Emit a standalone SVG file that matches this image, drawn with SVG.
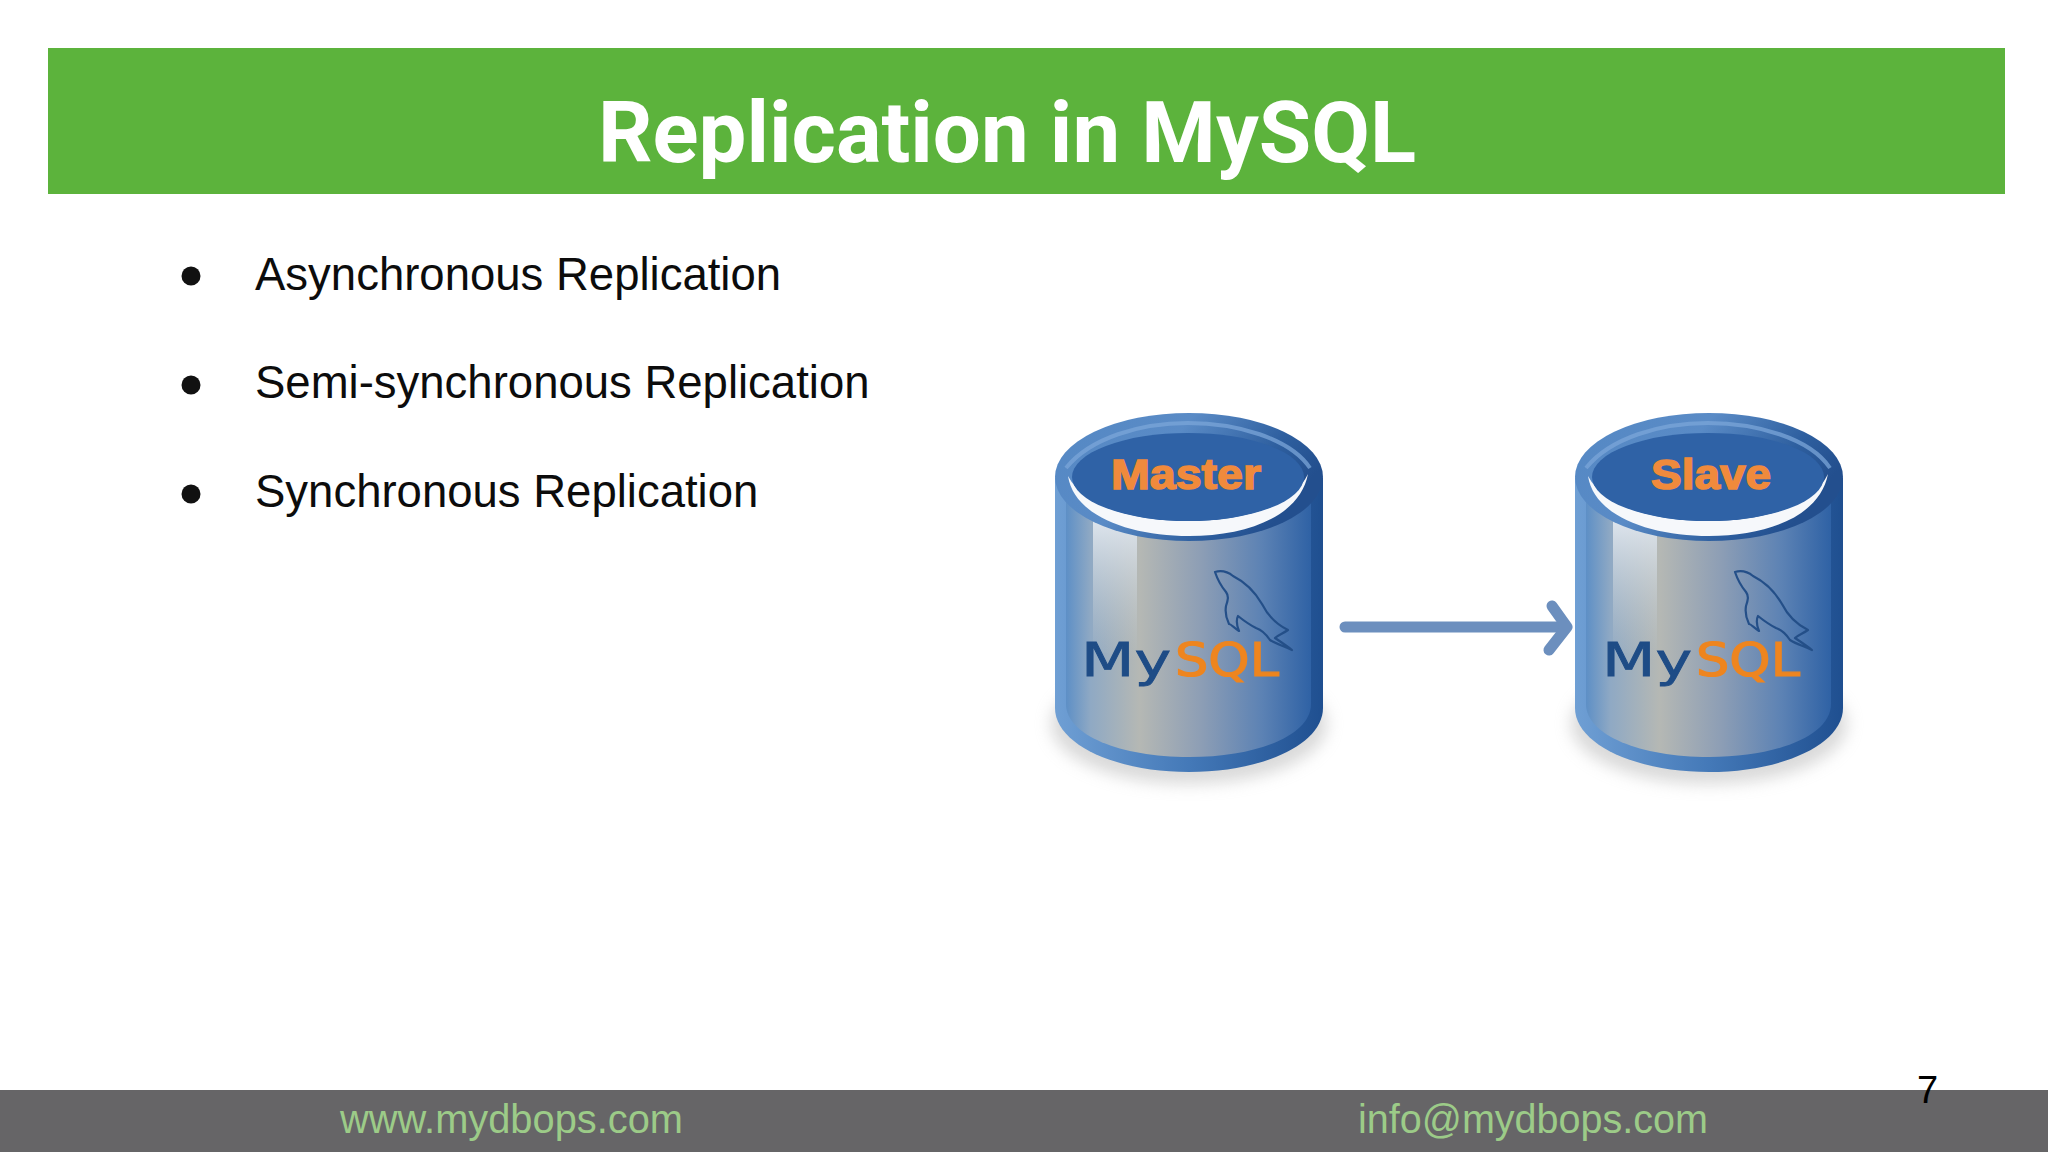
<svg xmlns="http://www.w3.org/2000/svg" width="2048" height="1152" viewBox="0 0 2048 1152">
<style>
.bullet{font-family:"Liberation Sans",Arial,sans-serif;font-size:45.5px;fill:#0c0c0c}
.foot{font-family:"Liberation Sans",Arial,sans-serif;font-size:40px;fill:#9ccb88}
.lbl{font-family:"Liberation Sans",Arial,sans-serif;font-weight:700;font-size:42px;fill:#f08a3c;stroke:#f08a3c;stroke-width:1.5px;text-anchor:middle}
.my{font-family:"DejaVu Sans",sans-serif;font-size:46px;fill:#1e4c86;stroke:#1e4c86;stroke-width:.8px}
.sql{font-family:"DejaVu Sans",sans-serif;font-size:46px;fill:#ee851f;stroke:#ee851f;stroke-width:1.2px}
.dol{fill:none;stroke:#244f88;stroke-width:2.2;stroke-linejoin:round;stroke-linecap:round}
</style>
<defs>
<linearGradient id="rim" x1="0" x2="1" y1="0" y2="0">
<stop offset="0" stop-color="#6f9fd4"/><stop offset=".5" stop-color="#4479b8"/><stop offset="1" stop-color="#1f4f90"/>
</linearGradient>
<linearGradient id="top" x1="0" x2="1" y1="0" y2=".4">
<stop offset="0" stop-color="#5488c4"/><stop offset=".45" stop-color="#5a8bc6"/><stop offset=".8" stop-color="#2e5f9f"/><stop offset="1" stop-color="#234f8e"/>
</linearGradient>
<linearGradient id="panel" x1="0" x2="1" y1="0" y2="0">
<stop offset="0" stop-color="#5d8fc6"/><stop offset=".1" stop-color="#8fa9c4"/><stop offset=".3" stop-color="#b5b8b4"/><stop offset=".55" stop-color="#8d9eb5"/><stop offset=".8" stop-color="#5c82b4"/><stop offset="1" stop-color="#2f62a5"/>
</linearGradient>
<linearGradient id="hi" x1="0" x2="0" y1="0" y2="1">
<stop offset="0" stop-color="#dfe6ee"/><stop offset="1" stop-color="#c0c8cc" stop-opacity="0"/>
</linearGradient>
<filter id="soft" x="-20%" y="-50%" width="140%" height="200%"><feGaussianBlur stdDeviation="8"/></filter>
<g id="cyl">
<ellipse cx="1189" cy="724" rx="138" ry="60" fill="#b4b4b4" opacity=".5" filter="url(#soft)"/>
<path d="M1055 478V708C1055 744 1115 772 1189 772S1323 744 1323 708V478Z" fill="url(#rim)"/>
<path d="M1066 490V704C1066 735 1120 757 1189 757S1311 735 1311 704V490Z" fill="url(#panel)"/>
<path d="M1093 518C1108 526 1122 530 1137 533V660L1093 650Z" fill="url(#hi)"/>
<ellipse cx="1189" cy="477" rx="134" ry="64" fill="url(#top)"/>
<path d="M1066 468C1090 438 1140 423 1188 423S1290 438 1310 468" fill="none" stroke="#7ba6d8" stroke-width="4" opacity=".75"/>
<path d="M1068 476C1074 516 1130 536 1189 536S1300 516 1308 474C1292 508 1240 521 1188 521S1085 508 1068 476Z" fill="#f6f8fb"/>
<ellipse cx="1188" cy="477" rx="116" ry="44" fill="#2f62a6"/>
</g>
<path id="dolphin" class="dol" d="M1215 572C1222 570 1228 572 1233 576C1245 582 1255 592 1262 604C1268 616 1276 624 1288 630C1282 634 1278 635 1275 638C1281 642 1287 646 1292 650C1284 646 1276 644 1270 640C1266 634 1262 630 1256 628C1248 624 1243 620 1238 616C1236 620 1237 626 1239 631C1234 628 1231 624 1229 624C1226 618 1225 612 1226 606C1228 600 1229 596 1226 592C1221 586 1217 578 1215 572Z"/>
</defs>
<rect width="2048" height="1152" fill="#fff"/>
<g id="header">
<rect x="48" y="48" width="1957" height="146" fill="#5cb33c"/>
<text x="1007" y="162" text-anchor="middle" font-family="Roboto,sans-serif" font-weight="700" font-size="85.2" fill="#fff">Replication in MySQL</text>
</g>
<g id="bullets">
<circle cx="191" cy="276" r="9.5" fill="#111"/>
<text class="bullet" x="255" y="290">Asynchronous Replication</text>
<circle cx="191" cy="385" r="9.5" fill="#111"/>
<text class="bullet" x="255" y="398">Semi-synchronous Replication</text>
<circle cx="191" cy="494" r="9.5" fill="#111"/>
<text class="bullet" x="255" y="507">Synchronous Replication</text>
</g>
<g id="master">
<use href="#cyl"/>
<text class="lbl" x="1186" y="489" textLength="150" lengthAdjust="spacingAndGlyphs">Master</text>
<use href="#dolphin"/>
<text class="my" x="1081" y="676" textLength="90" lengthAdjust="spacingAndGlyphs">My</text>
<text class="sql" x="1175" y="676" textLength="104" lengthAdjust="spacingAndGlyphs">SQL</text>
</g>
<g id="slave">
<use href="#cyl" transform="translate(520 0)"/>
<text class="lbl" x="1711" y="489" textLength="120" lengthAdjust="spacingAndGlyphs">Slave</text>
<use href="#dolphin" transform="translate(520 0)"/>
<text class="my" x="1602" y="676" textLength="90" lengthAdjust="spacingAndGlyphs">My</text>
<text class="sql" x="1696" y="676" textLength="104" lengthAdjust="spacingAndGlyphs">SQL</text>
</g>
<g id="connectors" fill="none" stroke="#6c8fbe" stroke-width="11" stroke-linecap="round" stroke-linejoin="round">
<path d="M1345 627H1565"/>
<path d="M1552 606L1567 627L1549 650"/>
</g>
<g id="footer">
<rect y="1090" width="2048" height="62" fill="#666567"/>
<text class="foot" x="340" y="1133" textLength="343" lengthAdjust="spacingAndGlyphs">www.mydbops.com</text>
<text class="foot" x="1358" y="1133" textLength="350" lengthAdjust="spacingAndGlyphs">info@mydbops.com</text>
</g>
<text id="page-number" x="1917" y="1103" font-family="Liberation Sans,Arial,sans-serif" font-size="38" fill="#000">7</text>
</svg>
